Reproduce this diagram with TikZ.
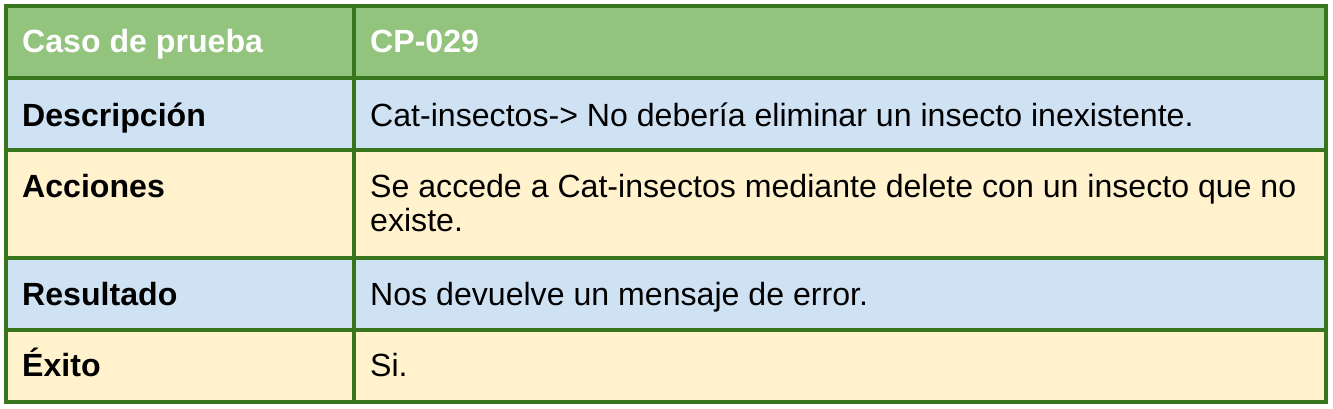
\documentclass[tikz,border=0pt]{standalone}
\usepackage{fontspec}
\setmainfont{Liberation Sans}
\definecolor{bordergreen}{HTML}{38761D}
\definecolor{headgreen}{HTML}{93C47D}
\definecolor{rowblue}{HTML}{CFE2F3}
\definecolor{rowyellow}{HTML}{FFF2CC}
\tikzset{
  celltext/.style={anchor=base west, inner sep=0pt, font=\fontsize{32.1}{34.7}\selectfont},
  labeltext/.style={celltext, font=\fontsize{32.1}{34.7}\selectfont\bfseries},
  gridline/.style={draw=bordergreen, line width=3.6pt},
}
\begin{document}
\begin{tikzpicture}[x=1pt,y=-1pt]
\useasboundingbox (0,0) rectangle (1333,409);
\fill[headgreen] (6,6) rectangle (1326,78);
\fill[rowblue] (6,78) rectangle (1326,150);
\fill[rowyellow] (6,150) rectangle (1326,258);
\fill[rowblue] (6,258) rectangle (1326,330);
\fill[rowyellow] (6,330) rectangle (1326,402);
\draw[gridline] (6,6) rectangle (1326,402);
\foreach \yy in {78,150,258,330} \draw[gridline] (6,\yy) -- (1326,\yy);
\draw[gridline] (354,6) -- (354,402);
\node[labeltext, text=white] (h1) at (22,53) {Caso de prueba};
\node[labeltext, text=white] (h2) at (370,53) {CP-029};
\node[labeltext] (l1) at (22,127) {Descripción};
\node[celltext] (v1) at (370,127) {Cat-insectos-> No debería eliminar un insecto inexistente.};
\node[labeltext] (l2) at (22,197) {Acciones};
\node[celltext] (v2a) at (370,197) {Se accede a Cat-insectos mediante delete con un insecto que no};
\node[celltext] (v2b) at (370,231.7) {existe.};
\node[labeltext] (l3) at (22,305.7) {Resultado};
\node[celltext] (v3) at (370,305.7) {Nos devuelve un mensaje de error.};
\node[labeltext] (l4) at (22,376.7) {Éxito};
\node[celltext] (v4) at (370,376.7) {Si.};
\end{tikzpicture}
\end{document}
